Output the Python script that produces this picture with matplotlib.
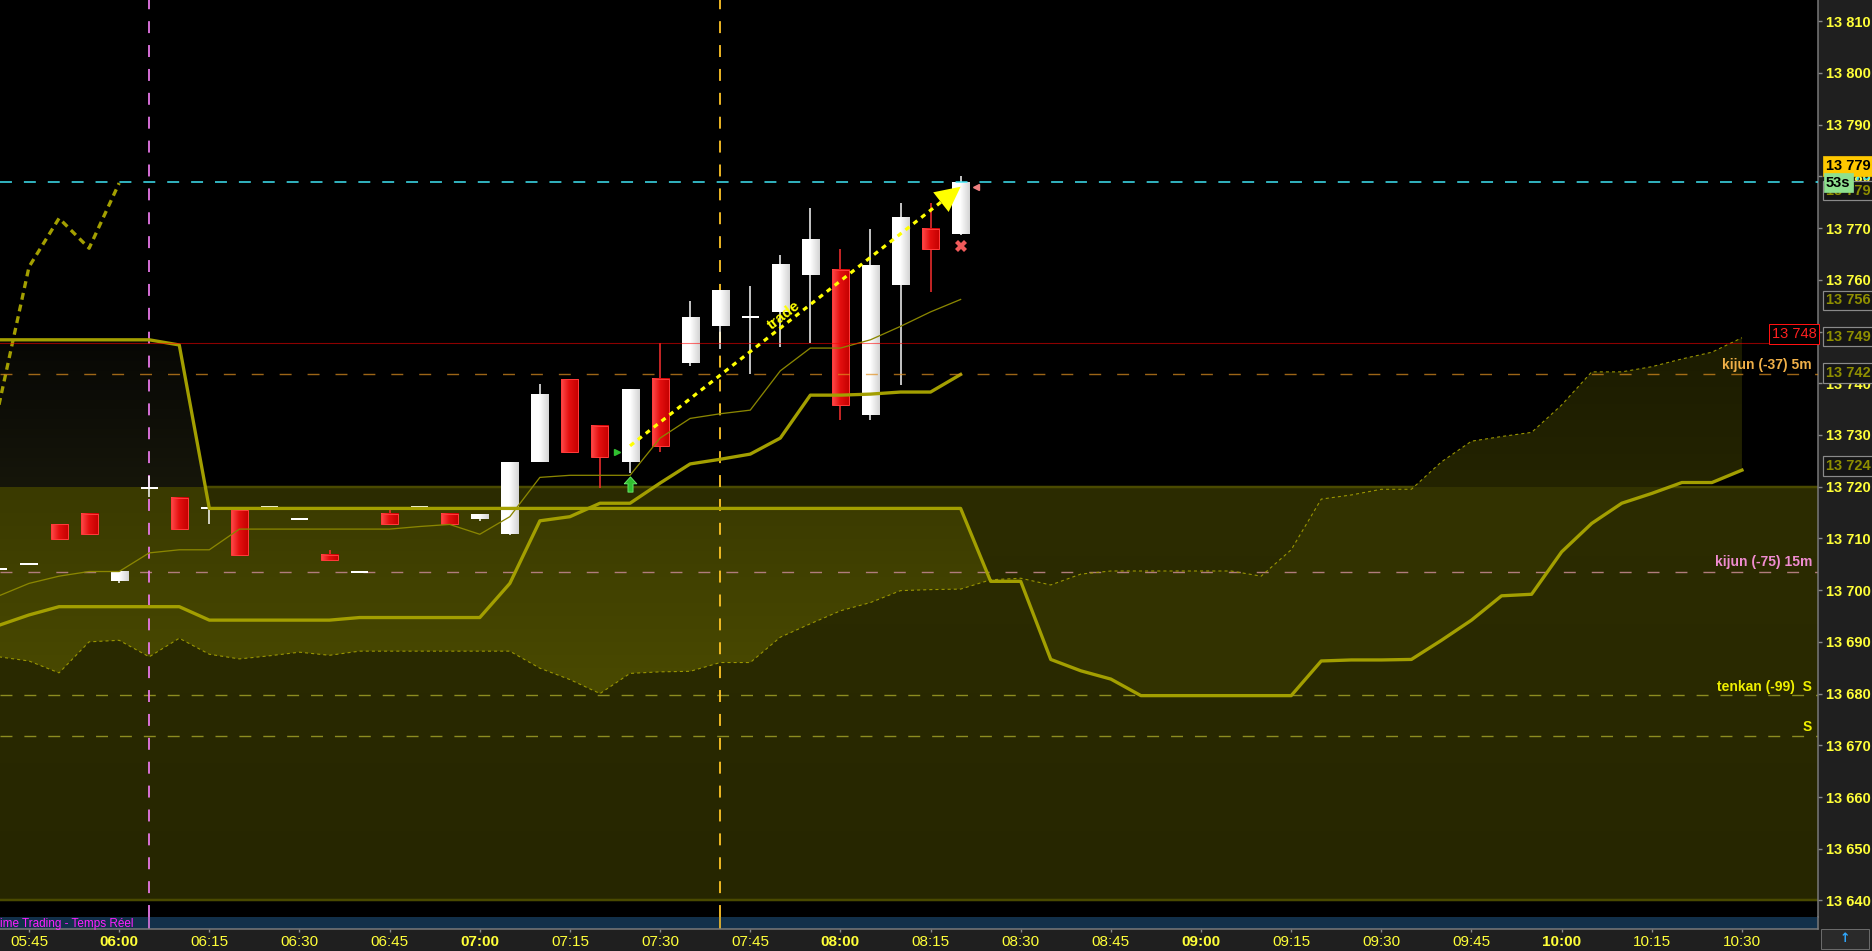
import numpy as np
import matplotlib
matplotlib.use("Agg")
import matplotlib.pyplot as plt
from matplotlib import colors as mcolors
from matplotlib import font_manager
from matplotlib.path import Path
from matplotlib.patches import Rectangle

# 5 minute bars, index 0 = 05:45
bar_idx = list(range(-1, 32))
opens = [13704, 13705, 13712.8, 13714.7, 13701.8, 13719.7, 13717.8, 13715.8, 13715.5, 13716,
         13713.7, 13706.8, 13703.6, 13714.7, 13716, 13714.7, 13713.8, 13710.9, 13724.8, 13740.8,
         13731.7, 13724.8, 13740.8, 13744.0, 13751.0, 13752.8, 13753.8, 13761.0, 13761.9, 13733.9,
         13758.9, 13769.8, 13768.9]
highs = [13704, 13705, 13712.8, 13714.7, 13703.6, 13722.0, 13717.8, 13715.8, 13715.5, 13716,
         13713.7, 13707.7, 13703.6, 13715.6, 13716, 13714.7, 13714.7, 13724.7, 13739.9, 13740.8,
         13731.7, 13738.9, 13747.7, 13755.9, 13757.9, 13758.8, 13764.8, 13773.9, 13765.9, 13769.8,
         13774.9, 13774.9, 13780.0]
lows = [13704, 13705, 13709.9, 13710.8, 13701.4, 13718.0, 13711.8, 13712.7, 13706.7, 13716,
        13713.7, 13705.8, 13703.6, 13712.7, 13716, 13712.7, 13713.3, 13710.7, 13724.7, 13726.8,
        13719.7, 13722.7, 13726.8, 13743.3, 13746.6, 13741.7, 13747.0, 13747.7, 13732.8, 13732.8,
        13739.7, 13757.7, 13768.7]
closes = [13704, 13705, 13709.9, 13710.8, 13703.6, 13719.7, 13711.8, 13715.8, 13706.7, 13716,
          13713.7, 13705.8, 13703.6, 13712.7, 13716, 13712.7, 13714.7, 13724.7, 13737.9, 13726.8,
          13725.7, 13738.9, 13727.8, 13752.8, 13757.9, 13752.8, 13762.9, 13767.9, 13735.7, 13762.9,
          13771.9, 13765.9, 13778.9]

tenkan = [13698.9, 13701.3, 13702.7, 13703.6, 13703.6, 13707.2, 13707.8, 13707.8, 13711.8, 13711.8,
          13711.8, 13711.8, 13711.8, 13711.8, 13712.3, 13712.7, 13710.8, 13714.2, 13721.8, 13722.2,
          13722.2, 13722.2, 13729.4, 13733.2, 13734.1, 13734.8, 13742.4, 13746.8, 13746.8, 13748.4,
          13751.0, 13753.8, 13756.2]
kijun = [13693.2, 13695.2, 13696.8, 13696.8, 13696.8, 13696.8, 13696.8, 13694.2, 13694.2, 13694.2,
         13694.2, 13694.2, 13694.7, 13694.7, 13694.7, 13694.7, 13694.7, 13701.3, 13713.4, 13714.2,
         13716.8, 13716.8, 13720.7, 13724.4, 13725.3, 13726.3, 13729.4, 13737.7, 13737.7, 13737.9,
         13738.3, 13738.3, 13741.7]

chikou_idx = [-1, 0, 1, 2, 3]
chikou = [13735.8, 13762.5, 13771.9, 13766.1, 13778.7]

# cloud, index -1 .. 57
cloud_idx = list(range(-1, 58))
span_a = [13748.4, 13748.4, 13748.4, 13748.4, 13748.4, 13748.4, 13747.4, 13715.8, 13715.8, 13715.8,
          13715.8, 13715.8, 13715.8, 13715.8, 13715.8, 13715.8, 13715.8, 13715.8, 13715.8, 13715.8,
          13715.8, 13715.8, 13715.8, 13715.8, 13715.8, 13715.8, 13715.8, 13715.8, 13715.8, 13715.8,
          13715.8, 13715.8, 13715.8, 13701.7, 13701.7, 13686.6, 13684.4, 13682.8, 13679.6, 13679.6,
          13679.6, 13679.6, 13679.6, 13679.6, 13686.3, 13686.5, 13686.5, 13686.6, 13690.3, 13694.2,
          13698.9, 13699.2, 13707.4, 13712.9, 13716.8, 13718.7, 13720.8, 13720.8, 13723.2]
span_b = [13687.1, 13686.3, 13684.0, 13690.0, 13690.3, 13687.1, 13690.7, 13687.6, 13686.7, 13687.3,
          13688.0, 13687.4, 13688.2, 13688.2, 13688.2, 13688.2, 13688.2, 13688.2, 13684.9, 13682.7,
          13680.0, 13683.9, 13684.2, 13684.3, 13686.0, 13686.0, 13690.9, 13693.5, 13696.0, 13697.6,
          13699.9, 13700.1, 13700.2, 13702.0, 13702.3, 13701.0, 13703.1, 13703.7, 13703.7, 13703.7,
          13703.7, 13703.7, 13702.7, 13707.8, 13717.6, 13718.4, 13719.5, 13719.5, 13724.8, 13728.8,
          13729.7, 13730.5, 13735.8, 13742.2, 13742.2, 13743.2, 13744.7, 13746.0, 13748.8]

# higher timeframe cloud (flat)
big_top = 13720
big_bottom = 13640

last_price = 13779
countdown = "53s"
alert_level = 13747.7
kijun_5m = 13741.7
kijun_15m = 13703.6
tenkan_s = 13679.7
s_level = 13671.8
vlines_idx = [4, 23]

trade_from = (20, 13727.9)
trade_to = (31, 13778.0)
entry_arrow = (20, 13720.5)
entry_tri = (19.55, 13726.8)
exit_cross = (31, 13766.5)
exit_tri = (31.5, 13778.0)

axis_boxes = [13779, 13756, 13749, 13742, 13724]

tick_idx = list(range(0, 58, 3))
tick_labels = ["05:45", "06:00", "06:15", "06:30", "06:45", "07:00", "07:15", "07:30", "07:45", "08:00",
               "08:15", "08:30", "08:45", "09:00", "09:15", "09:30", "09:45", "10:00", "10:15", "10:30"]
y_ticks = list(range(13640, 13811, 10))

# ---- style ----
names = {f.name for f in font_manager.fontManager.ttflist}
NARROW = 'Liberation Sans Narrow' if 'Liberation Sans Narrow' in names else 'Liberation Sans'
plt.rcParams['font.family'] = [NARROW, 'DejaVu Sans']
plt.rcParams['lines.scale_dashes'] = False

P = 0.72  # points per pixel at dpi 100
W, H = 1872, 951
X0, X1 = -0.965, 59.53
Y0, Y1 = 13636.8, 13814.1


def lab(v):
    v = int(round(v))
    return f"{v // 1000} {v % 1000:03d}"


def vgrad(ax, stops, clip=None, z=1.5, xr=(X0, X1)):
    vals = np.linspace(Y0, Y1, 1200)
    sv = np.array([s[0] for s in stops])
    sc = np.array([mcolors.to_rgb(s[1]) for s in stops])
    o = np.argsort(sv)
    sv, sc = sv[o], sc[o]
    rgb = np.stack([np.interp(vals, sv, sc[:, k]) for k in range(3)], axis=-1)
    im = ax.imshow(rgb[:, None, :], extent=(xr[0], xr[1], Y0, Y1), origin='lower',
                   aspect='auto', interpolation='nearest', zorder=z)
    if clip is not None:
        im.set_clip_path(clip, ax.transData)
    return im


fig = plt.figure(figsize=(W / 100, H / 100), dpi=100, facecolor='#1f1f1f')
ax = fig.add_axes([0, 34 / H, 1818 / W, 917 / H])
ax.set_facecolor('black')
ax.set_xlim(X0, X1)
ax.set_ylim(Y0, Y1)
ax.set_autoscale_on(False)

# higher timeframe cloud band
vgrad(ax, [(big_bottom, '#262600'), (big_top - 0.01, '#2c2c00'), (big_top + 0.01, '#2c2c00')],
      clip=Path([(X0, big_bottom), (X1, big_bottom), (X1, big_top), (X0, big_top), (X0, big_bottom)]),
      z=1.0)
for lvl in (big_top, big_bottom):
    ax.axhline(lvl, color='#4a4a00', lw=2.5 * P, zorder=1.1)

# 5m cloud, two colours depending on which span is on top
ci = np.array(cloud_idx, dtype=float)
sa = np.array(span_a)
sb = np.array(span_b)
c_dn = ax.fill_between(ci, sb, sa, where=sa >= sb, interpolate=True, facecolor='none', edgecolor='none')
c_up = ax.fill_between(ci, sb, sa, where=sb >= sa, interpolate=True, facecolor='none', edgecolor='none')
vgrad(ax, [(13750, '#060604'), (big_top + 0.01, '#16160a'), (big_top - 0.01, '#3a3a00'),
           (13680, '#4a4a00'), (13640, '#4a4a00')], clip=c_dn.get_paths()[0], z=1.5)
vgrad(ax, [(13752, '#1a1a00'), (big_top + 0.01, '#242400'), (big_top - 0.01, '#323200'),
           (13640, '#323200')], clip=c_up.get_paths()[0], z=1.5)

# horizontal levels
ax.axhline(kijun_15m, color='#b07c7c', lw=1.4 * P, dashes=(8.6, 11.5), zorder=2)
ax.axhline(tenkan_s, color='#8c8c20', lw=1.4 * P, dashes=(8.6, 8.6), zorder=2)
ax.axhline(s_level, color='#8c8c20', lw=1.4 * P, dashes=(8.6, 8.6), zorder=2)
for vi, vc in zip(vlines_idx, ['#e878e8', '#ffc428']):
    ax.axvline(vi, color=vc, lw=1.8 * P, dashes=(8.6, 8.6), zorder=2.2)

# candles
bw = 0.566
for i, o, h, l, c in zip(bar_idx, opens, highs, lows, closes):
    up = c >= o
    wc = '#ffffff' if up else '#ff3030'
    if h > max(o, c) or l < min(o, c):
        ax.vlines(i, l, h, color=wc, lw=1.5 * P, zorder=3)
    if abs(c - o) < 0.05:
        ax.hlines(o, i - bw / 2, i + bw / 2, color='#ffffff', lw=2 * P, zorder=3.4)
        continue
    lo, hi = min(o, c), max(o, c)
    grad = ['#ffffff', '#ffffff', '#d4d4d4'] if up else ['#ff4a4a', '#e41010', '#c40000']
    g = np.array([mcolors.to_rgb(x) for x in grad])
    gx = np.linspace(0, 1, 24)
    row = np.stack([np.interp(gx, [0, 0.45, 1], g[:, k]) for k in range(3)], axis=-1)
    ax.imshow(row[None, :, :], extent=(i - bw / 2, i + bw / 2, lo, hi), origin='lower',
              aspect='auto', interpolation='bilinear', zorder=3.3)
    if not up:
        ax.add_patch(Rectangle((i - bw / 2, lo), bw, hi - lo, fill=False, ec='#ff3a3a', lw=1 * P, zorder=3.4))

# indicator lines
ax.plot(ci, sb, color='#9a9600', lw=1.1 * P, dashes=(2.2, 2.2), zorder=4)
ax.plot(ci, sa, color='#a39f00', lw=3.3 * P, zorder=4.1)
ax.plot(bar_idx, kijun, color='#a39f00', lw=3.3 * P, zorder=4.1)
ax.plot(bar_idx, tenkan, color='#8a8600', lw=1.3 * P, zorder=4)
ax.plot(chikou_idx, chikou, color='#a39f00', lw=3.3 * P, dashes=(5, 3.6), zorder=4)

# levels drawn over the candles
ax.axhline(alert_level, color='#ff0000', alpha=0.55, lw=1.1 * P, zorder=4.5)
ax.axhline(kijun_5m, color='#e09020', alpha=0.7, lw=1.4 * P, dashes=(8.6, 11.5), zorder=4.5)
ax.axhline(last_price, color='#40e8f8', lw=1.5 * P, dashes=(8.6, 8.6), zorder=4.6)

# trade
ax.plot([trade_from[0], trade_to[0]], [trade_from[1], trade_to[1]], color='#ffff00',
        lw=3.2 * P, dashes=(3.6, 3.6), zorder=6)
p1 = ax.transData.transform(trade_from)
p2 = ax.transData.transform(trade_to)
d = (p2 - p1) / np.hypot(*(p2 - p1))
ang = np.degrees(np.arctan2(d[1], d[0]))
back = ax.transData.inverted().transform(p2 - 18 * d)
ax.annotate('', xy=trade_to, xytext=back,
            arrowprops=dict(arrowstyle='-|>,head_length=0.9,head_width=0.45', color='#ffff00',
                            lw=0, shrinkA=0, shrinkB=0, mutation_scale=20), zorder=6)
mid = ax.transData.inverted().transform(p1 + 0.48 * (p2 - p1) + 8 * np.array([-d[1], d[0]]))
ax.text(mid[0], mid[1], 'trade', color='#ffff00', fontsize=11, fontweight='bold',
        family='Liberation Sans', rotation=ang, rotation_mode='anchor',
        ha='center', va='center', zorder=6.5)

arrow_marker = Path([(-0.5, 0.05), (0, 0.6), (0.5, 0.05), (0.2, 0.05), (0.2, -0.6),
                     (-0.2, -0.6), (-0.2, 0.05), (-0.5, 0.05)])
ax.plot(*entry_arrow, marker=arrow_marker, ms=11, mfc='#30c030', mec='#70f070', mew=0.6, zorder=6)
ax.plot(*entry_tri, marker='>', ms=5, mfc='#30c030', mec='#30c030', zorder=6)
ax.plot(*exit_cross, marker='X', ms=9, mfc='#f05a5a', mec='#f05a5a', mew=0, zorder=6)
ax.plot(*exit_tri, marker='<', ms=4.5, mfc='#f08080', mec='#f08080', zorder=6)

# in-plot labels
xr = 1812 / 1818
ytr = ax.get_yaxis_transform()
for txt, y, col in [('kijun (-37) 5m', kijun_5m + 1.8, '#f0b048'),
                    ('kijun (-75) 15m', kijun_15m + 1.8, '#f08cd0'),
                    ('tenkan (-99)  S', tenkan_s + 1.6, '#f0f000'),
                    ('S', s_level + 1.8, '#f0f000')]:
    ax.text(xr, y, txt, transform=ytr, color=col, fontsize=10, fontweight='bold',
            ha='right', va='center', zorder=7)
ax.text(1794 / 1818, alert_level + 1.8, lab(alert_level), transform=ytr, color='#ff2020',
        fontsize=10.5, ha='center', va='center', zorder=7,
        bbox=dict(boxstyle='square,pad=0.2', fc='black', ec='#ff1010', lw=1 * P))

# right price axis
ax.yaxis.tick_right()
ax.set_yticks(y_ticks)
ax.set_yticklabels([lab(v) for v in y_ticks])
ax.tick_params(axis='y', colors='#8a8a8a', length=3, width=1, pad=2.5, labelcolor='#ffff38',
               labelsize=10.5)
for t in ax.get_yticklabels():
    t.set_fontweight('bold')
ax.set_xticks([])
for s in ('left', 'top', 'bottom'):
    ax.spines[s].set_visible(False)
ax.spines['right'].set_color('#7a7a7a')
ax.spines['right'].set_linewidth(1.5 * P)

bx = 1826 / 1818
ax.text(bx, last_price + 1.0, lab(last_price), transform=ytr, color='#40e8f8', fontsize=10.5,
        fontweight='bold', ha='left', va='center', zorder=8, clip_on=False)
for v in axis_boxes:
    yc = v - 1.8 if v == last_price else v
    ax.text(bx, yc, lab(v), transform=ytr, color='#8f8f00', fontsize=10.5, fontweight='bold',
            ha='left', va='center', zorder=9, clip_on=False,
            bbox=dict(boxstyle='square,pad=0.18', fc='#151515', ec='#8a8a8a', lw=1.2 * P))
ax.text(bx, last_price + 3.0, lab(last_price), transform=ytr, color='black', fontsize=10.5,
        fontweight='bold', ha='left', va='center', zorder=10, clip_on=False,
        bbox=dict(boxstyle='square,pad=0.22', fc='#ffc800', ec='#ffc800', lw=0.5))
ax.text(bx, last_price - 0.2, countdown, transform=ytr, color='black', fontsize=10.5,
        fontweight='bold', ha='left', va='center', zorder=11, clip_on=False,
        bbox=dict(boxstyle='square,pad=0.15', fc='#8ee08e', ec='#8ee08e', lw=0.5))

# status strip + time axis
st = fig.add_axes([0, 22 / H, 1818 / W, 12 / H])
st.set_facecolor('#12304a')
st.set_xlim(X0, X1)
st.set_ylim(0, 1)
st.set_yticks([])
for vi, vc in zip(vlines_idx, ['#e878e8', '#ffc428']):
    st.axvline(vi, color=vc, lw=1.6 * P)
st.text(0.0, 0.45, 'ime Trading - Temps Réel', transform=st.transAxes, color='#ff20ff',
        fontsize=8.5, ha='left', va='center')
st.set_xticks(tick_idx)
st.set_xticklabels(tick_labels)
st.tick_params(axis='x', colors='#8a8a8a', length=2.2, width=1, pad=2.3, labelcolor='#ffff38',
               labelsize=11)
for t in st.get_xticklabels():
    t.set_fontweight('bold' if t.get_text().endswith(':00') else 'normal')
for s in ('left', 'top'):
    st.spines[s].set_visible(False)
for s in ('bottom', 'right'):
    st.spines[s].set_color('#7a7a7a')
    st.spines[s].set_linewidth(1.5 * P)

# small corner button
fig.patches.append(Rectangle((1821 / W, 2 / H), 48 / W, 20 / H, transform=fig.transFigure,
                             fc='#2a2a2a', ec='#6a6a6a', lw=1 * P))
fig.text(1845 / W, 12 / H, '\u2191', color='#30a8ff', fontsize=9, fontweight='bold',
         ha='center', va='center', family='DejaVu Sans')

fig.savefig('out.png', dpi=100, facecolor=fig.get_facecolor())
